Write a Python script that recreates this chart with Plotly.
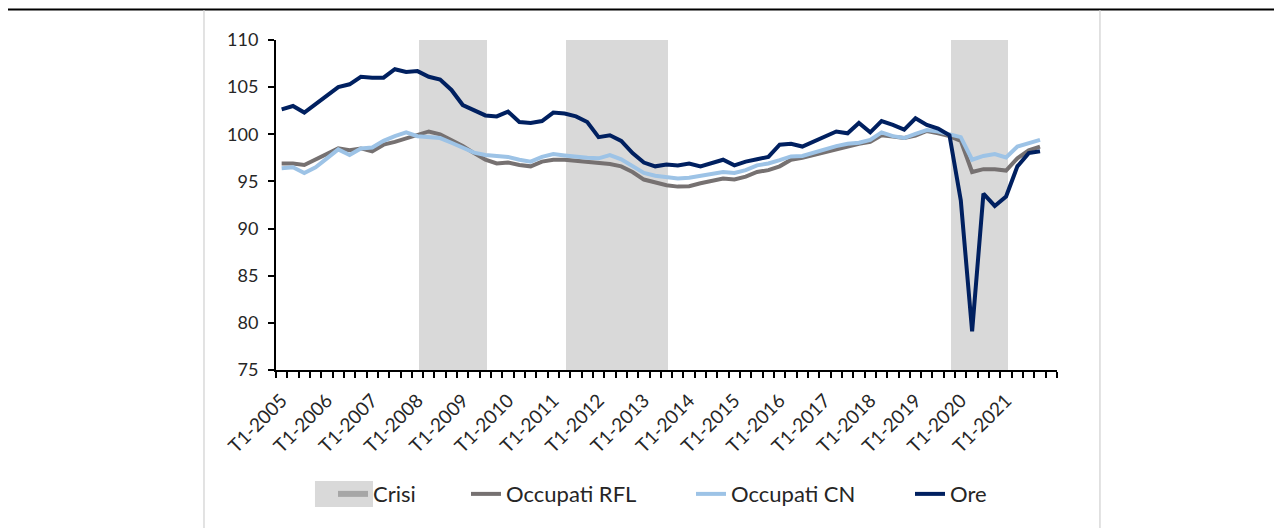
import plotly.graph_objects as go

# quarters T1-2005 .. T4-2021 (+ one empty slot on the axis, as in the source chart)
years = list(range(2005, 2022))
quarters = [f"T{q}-{y}" for y in years for q in range(1, 5)]

occupati_rfl = [
    96.9, 96.9, 96.75, 97.3, 97.9, 98.5, 98.3, 98.5, 98.2, 98.9, 99.2, 99.55,
    99.9, 100.3, 100.0, 99.4, 98.75, 98.0, 97.3, 96.9, 97.0, 96.75, 96.6, 97.1,
    97.3, 97.3, 97.2, 97.0, 96.9, 96.85, 96.6, 96.0, 95.2, 94.9, 94.6, 94.45,
    94.5, 94.8, 95.05, 95.3, 95.2, 95.5, 96.0, 96.2, 96.6, 97.3, 97.5, 97.8,
    98.15, 98.45, 98.75, 99.0, 99.2, 99.9, 99.75, 99.6, 99.85, 100.35, 100.1, 99.8,
    99.3, 96.0, 96.3, 96.3, 96.15, 97.45, 98.3, 98.7,
]
occupati_cn = [
    96.4, 96.5, 95.9, 96.5, 97.45, 98.4, 97.8, 98.5, 98.6, 99.3, 99.8, 100.2,
    99.8, 99.75, 99.6, 99.1, 98.6, 98.05, 97.8, 97.7, 97.6, 97.3, 97.1, 97.6,
    97.9, 97.75, 97.6, 97.5, 97.45, 97.8, 97.35, 96.6, 95.9, 95.6, 95.4, 95.3,
    95.4, 95.6, 95.85, 96.0, 95.9, 96.2, 96.7, 96.9, 97.25, 97.65, 97.7, 98.05,
    98.45, 98.75, 99.0, 99.1, 99.4, 100.2, 99.8, 99.6, 100.05, 100.45, 100.3, 100.0,
    99.7, 97.3, 97.7, 97.9, 97.55, 98.7, 99.1, 99.4,
]
ore = [
    102.65, 103.0, 102.3, 103.2, 104.0, 105.0, 105.3, 106.1, 106.0, 106.0, 106.9, 106.6,
    106.7, 106.1, 105.8, 104.7, 103.1, 102.5, 102.0, 101.9, 102.4, 101.3, 101.2, 101.4,
    102.3, 102.2, 101.9, 101.3, 99.7, 99.9, 99.3, 98.0, 97.0, 96.6, 96.8, 96.7,
    96.9, 96.6, 96.9, 97.3, 96.7, 97.1, 97.35, 97.6, 98.9, 99.0, 98.7, 99.2,
    99.7, 100.3, 100.1, 101.2, 100.2, 101.4, 101.0, 100.5, 101.7, 101.0, 100.6, 99.9,
    93.0, 79.1, 93.7, 92.4, 93.4, 96.6, 98.0, 98.2,
]
# crisis quarters (1 = shaded)
crisi = [0] * len(quarters)
for i in list(range(13, 19)) + list(range(26, 35)) + list(range(60, 65)):
    crisi[i] = 1

tick_idx = list(range(0, 65, 4))
tick_text = [quarters[i] for i in tick_idx]

x = list(range(len(quarters)))
FONT = "Lato, 'Open Sans', sans-serif"
TXT = "#262626"

fig = go.Figure()
fig.add_trace(go.Bar(
    x=x, y=[110 if c else None for c in crisi], name="Crisi", showlegend=False,
    marker=dict(color="#d9d9d9", line=dict(width=0)),
    width=1, offset=-0.85, base=0,
))
# legend key for the shaded periods
fig.add_trace(go.Scatter(x=[None], y=[None], name="Crisi", mode="lines",
                         line=dict(color="#a6a6a6", width=6), legend="legend"))
fig.add_trace(go.Scatter(x=x, y=occupati_rfl, name="Occupati RFL", mode="lines",
                         line=dict(color="#767171", width=4), legend="legend2"))
fig.add_trace(go.Scatter(x=x, y=occupati_cn, name="Occupati CN", mode="lines",
                         line=dict(color="#9dc3e6", width=4), legend="legend3"))
fig.add_trace(go.Scatter(x=x, y=ore, name="Ore", mode="lines",
                         line=dict(color="#002060", width=4), legend="legend4"))


def leg(px):
    return dict(orientation="h", x=(px - 276) / 781, xanchor="left", y=-0.376, yanchor="middle",
                font=dict(size=22, color=TXT), bgcolor="rgba(0,0,0,0)")


fig.update_layout(
    width=1282, height=528,
    margin=dict(l=268, r=233, t=32, b=166),
    paper_bgcolor="white", plot_bgcolor="white",
    font=dict(family=FONT, size=16, color=TXT),
    bargap=0, showlegend=True,
    legend=leg(333), legend2=leg(466), legend3=leg(691), legend4=leg(910),
    shapes=[
        dict(type="line", xref="paper", yref="paper", x0=-0.36, x1=1.3,
             y0=1.0924, y1=1.0924, line=dict(color="black", width=2)),
        dict(type="line", xref="paper", yref="paper", x0=-0.0922, x1=-0.0922,
             y0=1.09, y1=-0.5, line=dict(color="#d9d9d9", width=1.5)),
        dict(type="line", xref="paper", yref="paper", x0=1.055, x1=1.055,
             y0=1.09, y1=-0.5, line=dict(color="#d9d9d9", width=1.5)),
        dict(type="rect", xref="paper", yref="paper", x0=0.0499, x1=0.1242,
             y0=-0.4152, y1=-0.3364, fillcolor="#d9d9d9", line=dict(width=0)),
    ],
)
fig.update_xaxes(
    range=[-0.5, len(quarters) + 0.5], tickmode="array", tickvals=tick_idx, ticktext=tick_text,
    tickangle=-45, ticks="", showline=True, linecolor="black", linewidth=2,
    showgrid=False, zeroline=False, tickfont=dict(size=19), ticklabelstandoff=10,
    minor=dict(tickmode="linear", tick0=-0.5, dtick=1, ticks="outside", ticklen=6,
               tickwidth=1.5, tickcolor="black", showgrid=False),
)
fig.update_yaxes(
    range=[75, 110], dtick=5, ticks="outside", ticklen=6, tickwidth=1.5, tickcolor="black",
    showline=True, linecolor="black", linewidth=2, showgrid=False, zeroline=False,
    tickfont=dict(size=18), ticklabelstandoff=6,
)

fig.write_html("out.html")
